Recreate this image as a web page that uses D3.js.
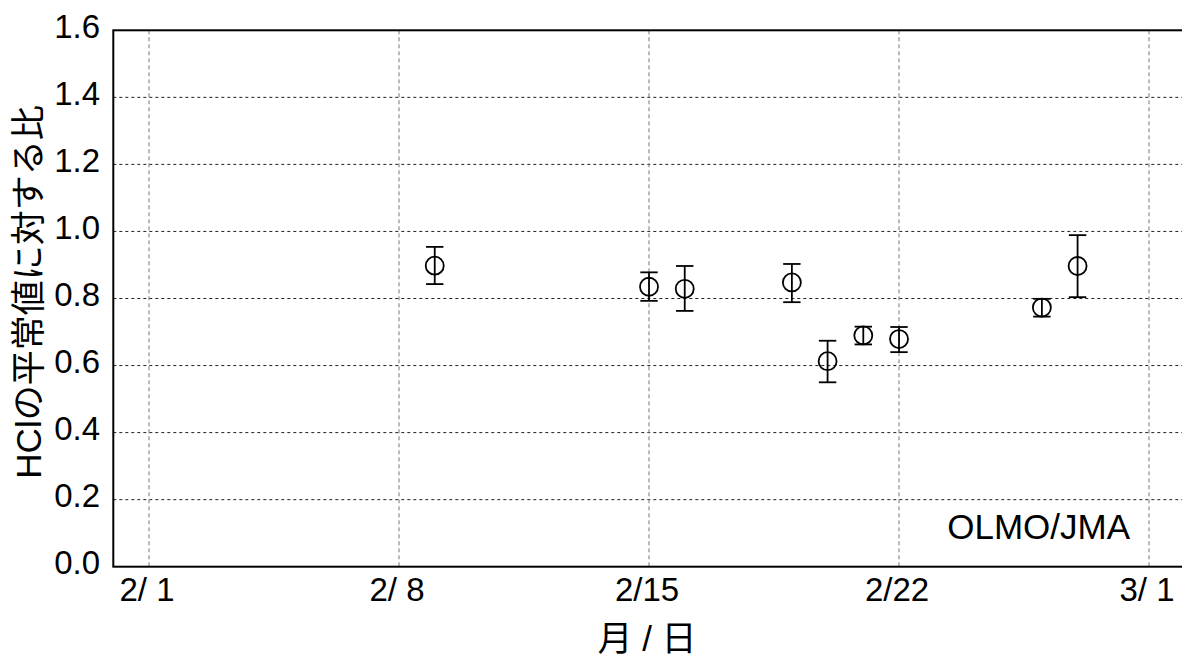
<!DOCTYPE html>
<html>
<head>
<meta charset="utf-8">
<script src="https://cdn.jsdelivr.net/npm/d3@7"></script>
<style>
    html, body { margin: 0; padding: 0; background: #fff; overflow: hidden; }
    text { font-family: "Liberation Sans", Arial, "Noto Sans CJK JP", sans-serif; fill: #000; }
</style>
</head>
<body>
<div id="chart"></div>
<script>
// HCl ratio to normal value, OLMO/JMA

const obsDates = ['2023-02-09', '2023-02-15', '2023-02-16', '2023-02-19', '2023-02-20',
    '2023-02-21', '2023-02-22', '2023-02-26', '2023-02-27'];
const ratioValues = [0.898, 0.835, 0.829, 0.848, 0.613, 0.690, 0.679, 0.773, 0.897];
const upperValues = [0.954, 0.878, 0.897, 0.903, 0.674, 0.716, 0.715, 0.799, 0.989];
const lowerValues = [0.843, 0.793, 0.763, 0.789, 0.550, 0.663, 0.640, 0.746, 0.804];

const xTickDates = ['2023-02-01', '2023-02-08', '2023-02-15', '2023-02-22', '2023-03-01'];
const xTickLabels = ['2/ 1', '2/ 8', '2/15', '2/22', '3/ 1'];
const yTicks = [0.0, 0.2, 0.4, 0.6, 0.8, 1.0, 1.2, 1.4, 1.6];

function drawChart() {
    const W = 1182, H = 654;
    const left = 113.3, top = 30.3, bottom = 566.7;
    const dayPx = 1000 / 28;

    const svg = d3.select('#chart').append('svg')
        .attr('width', W)
        .attr('height', H);

    const parse = d3.utcParse('%Y-%m-%d');
    const data = obsDates.map((d, i) => ({
        date: parse(d),
        value: ratioValues[i],
        hi: upperValues[i],
        lo: lowerValues[i]
    }));

    const x0 = parse('2023-01-31');
    const x1 = parse('2023-03-03');
    const x = d3.scaleUtc()
        .domain([x0, x1])
        .range([left, left + dayPx * 31]);

    const y = d3.scaleLinear()
        .domain([0, 1.6])
        .range([bottom, top]);

    const right = left + dayPx * 31;

    // Grid
    svg.append('g')
        .selectAll('line')
        .data(yTicks.slice(1, -1))
        .enter()
        .append('line')
        .attr('x1', left).attr('x2', right)
        .attr('y1', d => y(d)).attr('y2', d => y(d))
        .attr('stroke', '#222')
        .attr('stroke-width', 1)
        .attr('stroke-dasharray', '3,3');

    svg.append('g')
        .selectAll('line')
        .data(xTickDates)
        .enter()
        .append('line')
        .attr('x1', d => x(parse(d))).attr('x2', d => x(parse(d)))
        .attr('y1', top).attr('y2', bottom)
        .attr('stroke', '#777')
        .attr('stroke-width', 1)
        .attr('stroke-dasharray', '4,3');

    // Frame
    svg.append('rect')
        .attr('x', left).attr('y', top)
        .attr('width', right - left)
        .attr('height', bottom - top)
        .attr('fill', 'none')
        .attr('stroke', '#000')
        .attr('stroke-width', 2);

    // Tick labels
    svg.append('g')
        .selectAll('text')
        .data(yTicks)
        .enter()
        .append('text')
        .attr('x', 100)
        .attr('y', d => y(d) + 7.5)
        .attr('text-anchor', 'end')
        .attr('font-size', '33px')
        .text(d => d3.format('.1f')(d));

    svg.append('g')
        .selectAll('text')
        .data(xTickDates)
        .enter()
        .append('text')
        .attr('x', d => x(parse(d)) - 2)
        .attr('y', 601)
        .attr('text-anchor', 'middle')
        .attr('font-size', '33px')
        .attr('xml:space', 'preserve')
        .text((d, i) => xTickLabels[i]);

    // Axis titles
    svg.append('text')
        .attr('transform', 'translate(41,292) rotate(-90)')
        .attr('text-anchor', 'middle')
        .attr('font-size', '35px')
        .text('HClの平常値に対する比');

    svg.append('text')
        .attr('x', 647)
        .attr('y', 651)
        .attr('text-anchor', 'middle')
        .attr('font-size', '35px')
        .attr('xml:space', 'preserve')
        .text('月 / 日');

    // Credit
    svg.append('text')
        .attr('x', 1130)
        .attr('y', 538.5)
        .attr('text-anchor', 'end')
        .attr('font-size', '35px')
        .text('OLMO/JMA');

    // Error bars
    const cap = 8.7;
    const bars = svg.append('g')
        .selectAll('g')
        .data(data)
        .enter()
        .append('g')
        .attr('stroke', '#000')
        .attr('stroke-width', 1.8)
        .attr('fill', 'none');

    bars.append('line')
        .attr('x1', d => x(d.date)).attr('x2', d => x(d.date))
        .attr('y1', d => y(d.hi)).attr('y2', d => y(d.lo));
    bars.append('line')
        .attr('x1', d => x(d.date) - cap).attr('x2', d => x(d.date) + cap)
        .attr('y1', d => y(d.hi)).attr('y2', d => y(d.hi));
    bars.append('line')
        .attr('x1', d => x(d.date) - cap).attr('x2', d => x(d.date) + cap)
        .attr('y1', d => y(d.lo)).attr('y2', d => y(d.lo));

    // Markers
    bars.append('circle')
        .attr('cx', d => x(d.date))
        .attr('cy', d => y(d.value))
        .attr('r', 9);
}

drawChart();
</script>
</body>
</html>
